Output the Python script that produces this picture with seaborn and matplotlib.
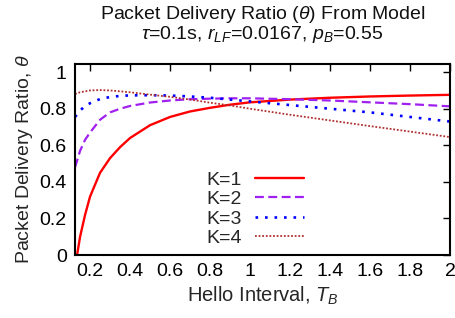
import numpy as np
import pandas as pd
import matplotlib
matplotlib.use('Agg')
import matplotlib.pyplot as plt
import seaborn as sns

# Data
x_k1 = [0.135, 0.15, 0.175, 0.2, 0.25, 0.3, 0.35, 0.4, 0.5, 0.6, 0.7, 0.8,
        0.9, 1.0, 1.2, 1.4, 1.6, 1.8, 2.0]
k1 = [0.0, 0.1, 0.22, 0.32, 0.45, 0.53, 0.59, 0.64, 0.71, 0.755, 0.785,
      0.805, 0.822, 0.835, 0.85, 0.86, 0.867, 0.872, 0.876]

x_k = [0.125, 0.15, 0.175, 0.2, 0.25, 0.3, 0.35, 0.4, 0.5, 0.6, 0.7, 0.8,
       0.9, 1.0, 1.2, 1.4, 1.6, 1.8, 2.0]
k2 = [0.48, 0.57, 0.63, 0.67, 0.74, 0.78, 0.80, 0.815, 0.834, 0.845, 0.852,
      0.855, 0.857, 0.857, 0.852, 0.845, 0.835, 0.825, 0.813]
k3 = [0.755, 0.79, 0.815, 0.83, 0.853, 0.864, 0.870, 0.873, 0.874, 0.872,
      0.867, 0.86, 0.85, 0.84, 0.82, 0.80, 0.78, 0.755, 0.73]
k4 = [0.88, 0.89, 0.895, 0.90, 0.902, 0.90, 0.895, 0.89, 0.877, 0.865, 0.85,
      0.833, 0.818, 0.80, 0.767, 0.736, 0.705, 0.675, 0.645]

x_ticks = [0.2, 0.4, 0.6, 0.8, 1.0, 1.2, 1.4, 1.6, 1.8, 2.0]
x_labels = ['0.2', '0.4', '0.6', '0.8', '1', '1.2', '1.4', '1.6', '1.8', '2']
y_ticks = [0, 0.2, 0.4, 0.6, 0.8, 1.0]
y_labels = ['0', '0.2', '0.4', '0.6', '0.8', '1']

series = [
    ('K=1', x_k1, k1, '#ff0000', 1.7, ''),
    ('K=2', x_k, k2, '#a020f0', 1.6, (4, 2)),
    ('K=3', x_k, k3, '#0000ff', 1.9, (1, 2.6)),
    ('K=4', x_k, k4, '#b03030', 1.3, (1, 1)),
]

sns.set_style('white')
plt.rcParams['font.family'] = ['Liberation Sans', 'DejaVu Sans']
plt.rcParams['mathtext.fontset'] = 'custom'
plt.rcParams['mathtext.rm'] = 'Liberation Sans'
plt.rcParams['mathtext.it'] = 'Liberation Sans:italic'

fig = plt.figure(figsize=(4.55, 3.18), dpi=100)
ax = fig.add_axes([0.165, 0.198, 0.824, 0.601])

for label, xs, ys, color, lw, dash in series:
    df = pd.DataFrame({'x': xs, 'y': ys})
    sns.lineplot(data=df, x='x', y='y', ax=ax, color=color,
                 linewidth=lw, label=label, sort=False)
    if dash:
        ax.get_lines()[-1].set_dashes(dash)

ax.set_xlim(0.125, 2.0)
ax.set_ylim(0, 1.045)
ax.set_xticks(x_ticks)
ax.set_xticklabels(x_labels)
ax.set_yticks(y_ticks)
ax.set_yticklabels(y_labels)
ax.tick_params(direction='in', length=5, width=1, top=True, right=True,
               labelsize=14, colors='black', pad=6)
for s in ax.spines.values():
    s.set_color('black')
    s.set_linewidth(1.5)

ax.set_xlabel('Hello Interval, $T_B$', fontsize=14.5, labelpad=3)
ax.set_ylabel('Packet Delivery Ratio, $\\theta$', fontsize=14, labelpad=3)
ax.set_title('Packet Delivery Ratio ($\\theta$) From Model\n'
             '$\\tau$=0.1s, $r_{LF}$=0.0167, $p_B$=0.55',
             fontsize=14, linespacing=0.9, pad=18, color='#111111')

ax.legend(loc='lower center', bbox_to_anchor=(0.48, 0.0), frameon=False,
          markerfirst=False, fontsize=14, handlelength=2.5,
          labelspacing=0.1, borderaxespad=0, handletextpad=0.7)

fig.savefig('out.png', dpi=100)
